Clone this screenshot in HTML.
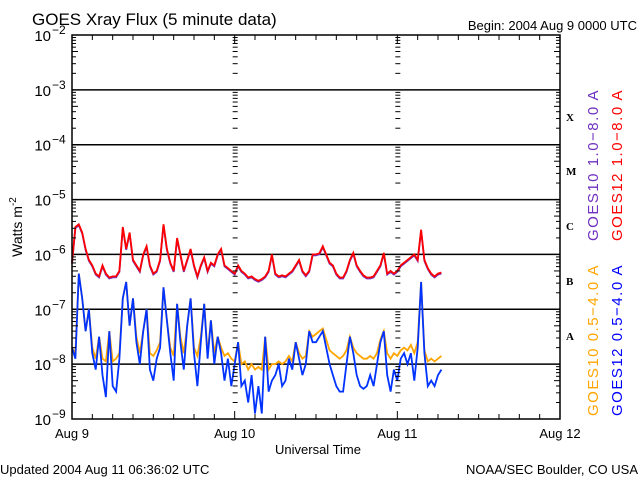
<!DOCTYPE html>
<html><head><meta charset="utf-8"><style>
body{margin:0;background:#fff;width:640px;height:480px;overflow:hidden}
svg{display:block}
text{font-family:"Liberation Sans",sans-serif;fill:#000}
</style></head><body>
<svg id="chart" width="640" height="480">
<text x="32" y="25" font-size="17">GOES Xray Flux (5 minute data)</text>
<text x="637" y="30" font-size="13" text-anchor="end">Begin:  2004 Aug 9 0000 UTC</text>
<text x="0" y="474" font-size="13">Updated 2004 Aug 11 06:36:02 UTC</text>
<text x="638" y="474" font-size="13" text-anchor="end">NOAA/SEC Boulder, CO USA</text>
<text x="318" y="454" font-size="13" text-anchor="middle">Universal Time</text>
<text transform="translate(22,227) rotate(-90)" font-size="14" text-anchor="middle">Watts m<tspan dy="-6" font-size="10">-2</tspan></text>
<g id="grid"></g>
<g id="series"></g>
<g id="axes"></g>
<g>
<text x="566" y="121" font-size="11" font-weight="bold" style="font-family:'Liberation Serif',serif">X</text>
<text x="566" y="175" font-size="11" font-weight="bold" style="font-family:'Liberation Serif',serif">M</text>
<text x="566" y="230" font-size="11" font-weight="bold" style="font-family:'Liberation Serif',serif">C</text>
<text x="566" y="285" font-size="11" font-weight="bold" style="font-family:'Liberation Serif',serif">B</text>
<text x="566" y="340" font-size="11" font-weight="bold" style="font-family:'Liberation Serif',serif">A</text>
</g>
<text transform="translate(598,165) rotate(-90)" font-size="15" letter-spacing="1.5" text-anchor="middle" style="fill:#7030c0">GOES10 1.0−8.0 A</text>
<text transform="translate(622,165) rotate(-90)" font-size="15" letter-spacing="1.5" text-anchor="middle" style="fill:#ff0000">GOES12 1.0−8.0 A</text>
<text transform="translate(598,340) rotate(-90)" font-size="15" letter-spacing="1.5" text-anchor="middle" style="fill:#ffa500">GOES10 0.5−4.0 A</text>
<text transform="translate(622,340) rotate(-90)" font-size="15" letter-spacing="1.5" text-anchor="middle" style="fill:#0000ff">GOES12 0.5−4.0 A</text>
</svg>
<script>
const dayLabels=["Aug 9","Aug 10","Aug 11","Aug 12"];
const decadeExps=[-2,-3,-4,-5,-6,-7,-8,-9];
const stepHours=0.5;
const red=[-6.15,-5.5,-5.45,-5.6,-5.9,-6.1,-6.2,-6.35,-6.4,-6.2,-6.35,-6.42,-6.4,-6.4,-6.3,-5.5,-5.9,-5.6,-6.1,-6.2,-6.3,-6.0,-5.85,-6.2,-6.35,-6.3,-6.1,-5.45,-5.9,-6.15,-6.3,-5.7,-6.0,-6.3,-6.1,-5.9,-6.2,-6.4,-6.2,-6.05,-6.3,-6.15,-6.2,-6.0,-5.9,-6.2,-6.25,-6.3,-6.35,-6.2,-6.3,-6.35,-6.42,-6.4,-6.45,-6.48,-6.45,-6.4,-6.3,-6.0,-6.35,-6.4,-6.38,-6.4,-6.35,-6.3,-6.2,-6.1,-6.3,-6.38,-6.3,-6.0,-6.0,-5.98,-5.85,-6.0,-6.15,-6.2,-6.35,-6.42,-6.42,-6.3,-6.1,-5.97,-6.2,-6.3,-6.38,-6.42,-6.42,-6.4,-6.3,-6.2,-5.97,-6.35,-6.3,-6.35,-6.3,-6.2,-6.15,-6.1,-6.05,-6.0,-6.1,-5.55,-6.1,-6.25,-6.35,-6.4,-6.35,-6.33];
const blue=[-7.7,-7.9,-6.35,-6.8,-7.4,-7.0,-7.8,-8.1,-7.5,-8.2,-8.6,-7.4,-8.4,-8.5,-7.9,-6.8,-6.5,-7.3,-6.8,-7.6,-8.0,-7.4,-7.0,-8.1,-8.3,-7.9,-7.7,-6.6,-7.2,-7.8,-8.3,-6.9,-7.6,-8.1,-7.3,-6.8,-7.8,-8.4,-7.6,-6.9,-7.9,-7.2,-8.0,-7.5,-7.8,-8.3,-7.9,-8.4,-8.0,-7.6,-8.4,-8.3,-8.7,-8.2,-8.9,-8.4,-8.9,-7.5,-8.5,-8.3,-8.2,-8.0,-8.4,-8.3,-7.9,-8.1,-7.6,-7.9,-8.2,-8.0,-7.4,-7.6,-7.6,-7.5,-7.4,-7.7,-8.0,-8.2,-8.4,-8.5,-8.5,-8.0,-7.5,-7.8,-8.2,-8.4,-8.45,-8.4,-8.2,-8.4,-8.0,-7.6,-7.4,-8.2,-8.5,-8.1,-8.3,-7.9,-7.8,-8.0,-7.8,-8.3,-7.7,-6.5,-7.8,-8.4,-8.3,-8.4,-8.2,-8.1];
const orange=[-7.7,-7.8,-6.35,-6.8,-7.4,-7.0,-7.7,-7.9,-7.5,-7.9,-7.95,-7.4,-7.95,-7.9,-7.8,-6.8,-6.5,-7.3,-6.8,-7.5,-7.8,-7.4,-7.0,-7.8,-7.85,-7.75,-7.6,-6.6,-7.2,-7.7,-7.85,-6.9,-7.5,-7.8,-7.3,-6.8,-7.7,-7.85,-7.5,-6.9,-7.8,-7.2,-7.8,-7.5,-7.7,-7.85,-7.8,-7.9,-7.95,-7.6,-8.0,-7.95,-8.1,-8.0,-8.1,-8.05,-8.1,-7.5,-8.1,-8.0,-8.0,-7.95,-8.0,-7.95,-7.85,-7.95,-7.6,-7.8,-7.9,-7.85,-7.4,-7.5,-7.45,-7.4,-7.35,-7.55,-7.75,-7.8,-7.85,-7.9,-7.85,-7.75,-7.5,-7.7,-7.8,-7.85,-7.9,-7.9,-7.85,-7.9,-7.8,-7.55,-7.4,-7.8,-7.9,-7.8,-7.85,-7.75,-7.7,-7.75,-7.65,-7.8,-7.6,-6.5,-7.75,-7.95,-7.9,-7.95,-7.9,-7.85];

const NS="http://www.w3.org/2000/svg";
const L=72,R=560,T=35,B=419;
const xScale=h=>L+(R-L)*h/72;
const yScale=v=>T+(B-T)*(-2-v)/7;
function mk(tag,attrs,parent){const e=document.createElementNS(NS,tag);for(const k in attrs)e.setAttribute(k,attrs[k]);parent.appendChild(e);return e;}
const grid=document.getElementById('grid'),axes=document.getElementById('axes'),series=document.getElementById('series');

decadeExps.forEach(ex=>{
  const y=yScale(ex);
  if(ex<-2&&ex>-9){
    const g=mk('line',{x1:L,x2:R,y1:y,y2:y,stroke:'#000','stroke-width':1.5},grid);
    
    
  }
  const t=mk('text',{x:51,y:y+6,'font-size':15,'text-anchor':'end'},axes);
  
  
  t.textContent='10';
  const s=mk('text',{x:52,y:y-1,'font-size':12},axes);
  
  
  s.textContent=String(ex).replace('-','−');
  if(ex>-9){
    for(let m=2;m<=9;m++){
      const yy=yScale(ex-1+Math.log10(m));
      const len=m===5?6:4;
      [[L,L+len],[R,R-len],[xScale(24)-2,xScale(24)+3],[xScale(48)-2,xScale(48)+3]].forEach(p=>{
        const tk=mk('line',{x1:p[0],x2:p[1],y1:yy,y2:yy,stroke:'#000','stroke-width':1},axes);
        
        
      });
    }
  }
});
for(let h=0;h<=72;h+=3){
  const x=xScale(h),len=h%24===0?8:5;
  const a=mk('line',{x1:x,x2:x,y1:B,y2:B-len,stroke:'#000','stroke-width':1},axes);
  
  
  const b=mk('line',{x1:x,x2:x,y1:T,y2:T+len,stroke:'#000','stroke-width':1},axes);
  
  
}
dayLabels.forEach((lab,i)=>{
  const t=mk('text',{x:xScale(i*24),y:438,'font-size':13,'text-anchor':'middle'},axes);
  
  
  t.textContent=lab;
});
const frame=mk('rect',{x:L,y:T,width:R-L,height:B-T,fill:'none',stroke:'#000','stroke-width':1.5},axes);



function draw(arr,color,name,w,dy){
  const pts=arr.map((v,i)=>xScale(i*stepHours).toFixed(1)+','+(yScale(v)+dy).toFixed(1)).join(' ');
  const p=mk('polyline',{points:pts,fill:'none',stroke:color,'stroke-width':w,'stroke-linejoin':'miter'},series);
  
  
}
draw(red,'#7030c0','goes10-long-line',1.8,1);
draw(red,'#ff0000','goes12-long-line',1.8,0);
draw(orange,'#ffa500','goes10-short-line',1.8,0);
draw(blue,'#0033ff','goes12-short-line',1.8,0);
</script>
</body></html>
